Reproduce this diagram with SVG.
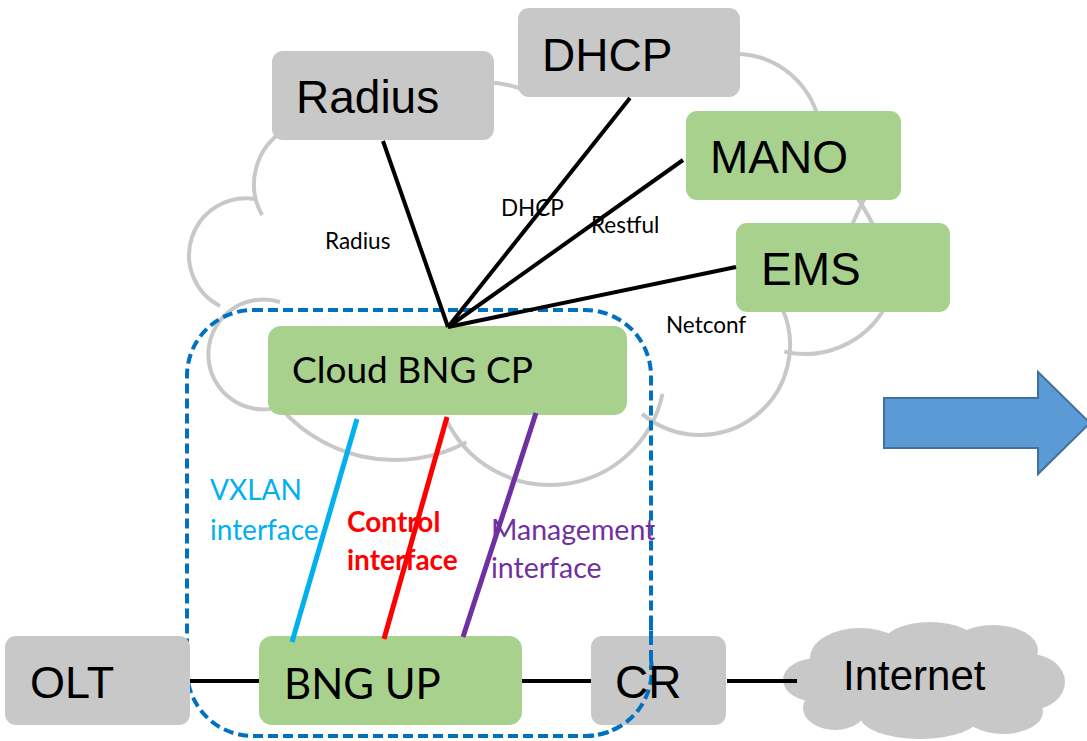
<svg xmlns="http://www.w3.org/2000/svg" width="1087" height="741" viewBox="0 0 1087 741">
<style>
.cloud{fill:none;stroke:#c8c8c8;stroke-width:4}
.gray{fill:#c8c8c8}
.green{fill:#a9d18e}
.big{font-family:"Liberation Sans",Arial,sans-serif;font-size:46px;fill:#000}
.lato{font-family:Lato,"Open Sans",sans-serif}
.small{font-family:Lato,"Open Sans",sans-serif;font-size:22.5px;fill:#000}
.conn{stroke:#000;stroke-width:4;fill:none}
.ifc{stroke-width:5;fill:none}
</style>
<rect width="1087" height="741" fill="#fff"/>
<g id="backgroundCloud">
<path class="cloud" d="M530 92 A120 120 0 0 0 420 100"/>
<path class="cloud" d="M285 130 A63 63 0 0 0 262 215"/>
<path class="cloud" d="M255 199 A57 57 0 0 0 220 306"/>
<path class="cloud" d="M280 302 A55 55 0 1 0 285 405"/>
<path class="cloud" d="M273.6 399.5 A152 152 0 0 0 466.4 442.2"/>
<path class="cloud" d="M445.8 418.6 A115 115 0 0 0 662.5 393.9"/>
<path class="cloud" d="M642.1 413.9 A90 90 0 0 0 781.6 307"/>
<path class="cloud" d="M784.3 351.6 A92 92 0 0 0 884.7 308"/>
<path class="cloud" d="M848 235 Q858 210 866 196 M878 235 Q866 210 856 196"/>
<path class="cloud" d="M819.7 125 A86 86 0 0 0 720 55"/>
</g>
<g id="cpBoundary">
<rect x="187" y="310" width="464" height="426" rx="66" ry="66" fill="none" stroke="#0070c0" stroke-width="4" stroke-dasharray="10 5"/>
</g>
<g id="Radius"><rect class="gray" x="272" y="51" width="222" height="89" rx="11"/><text class="big" x="296" y="113">Radius</text></g>
<g id="DHCP"><rect class="gray" x="518" y="8" width="222" height="89" rx="11"/><text class="big" x="542" y="71">DHCP</text></g>
<g id="MANO"><rect class="green" x="686" y="111" width="215" height="89" rx="11"/><text class="big" x="710" y="173">MANO</text></g>
<g id="EMS"><rect class="green" x="736" y="223" width="214" height="89" rx="11"/><text class="big" x="761" y="285">EMS</text></g>
<g id="OLT"><rect class="gray" x="5" y="636" width="185" height="89" rx="11"/><text class="big" x="30" y="698" style="font-size:45px">OLT</text></g>
<g id="CR"><rect class="gray" x="591" y="636" width="135" height="89" rx="11"/></g>
<g id="cpBoundaryOverCR">
<path d="M651 660 A66 66 0 0 1 585 736" fill="none" stroke="#0070c0" stroke-width="4" stroke-dasharray="10 5"/>
<line x1="651" y1="620" x2="651" y2="670" stroke="#0070c0" stroke-width="4" stroke-dasharray="10 5"/>
</g>
<g id="CRlabel"><text class="big" x="615" y="698">CR</text></g>
<g id="Internet">
<g class="gray">
<ellipse cx="817" cy="680" rx="34" ry="22"/>
<ellipse cx="835" cy="708" rx="32" ry="22"/>
<ellipse cx="860" cy="658" rx="50" ry="30"/>
<ellipse cx="930" cy="645" rx="48" ry="23"/>
<ellipse cx="993" cy="650" rx="45" ry="25"/>
<ellipse cx="1030" cy="682" rx="35" ry="28"/>
<ellipse cx="1003" cy="712" rx="40" ry="22"/>
<ellipse cx="920" cy="716" rx="60" ry="23"/>
<ellipse cx="925" cy="682" rx="110" ry="42"/>
</g>
<text class="big" x="843" y="690" style="font-size:42px">Internet</text>
</g>
<g id="CloudBNGCP"><rect class="green" x="268" y="326" width="359" height="89" rx="13"/><text class="lato" x="292" y="383" font-size="37">Cloud BNG CP</text></g>
<g id="BNGUP"><rect class="green" x="259" y="636" width="263" height="89" rx="13"/><text class="lato" x="284" y="699" font-size="42">BNG UP</text></g>
<g id="connectors">
<line class="conn" x1="383" y1="141" x2="448" y2="327"/>
<line class="conn" x1="630" y1="98" x2="448" y2="327"/>
<line class="conn" x1="683" y1="160" x2="448" y2="327"/>
<line class="conn" x1="736" y1="267" x2="448" y2="327"/>
<line class="conn" x1="190" y1="681" x2="259" y2="681"/>
<line class="conn" x1="522" y1="681" x2="591" y2="681"/>
<line class="conn" x1="727" y1="681" x2="797" y2="681"/>
<line class="ifc" stroke="#00b0f0" x1="357" y1="419" x2="292" y2="642"/>
<line class="ifc" stroke="#ff0000" x1="447" y1="417" x2="384" y2="639"/>
<line class="ifc" stroke="#7030a0" x1="536" y1="413" x2="463" y2="637"/>
</g>
<g id="labels">
<text class="small" x="325" y="249">Radius</text>
<text class="small" x="501" y="216">DHCP</text>
<text class="small" x="591" y="233">Restful</text>
<text class="small" x="666" y="333">Netconf</text>
<text class="lato" font-size="28" fill="#00b0f0"><tspan x="210" y="500">VXLAN</tspan><tspan x="210" y="540">interface</tspan></text>
<text class="lato" font-size="28" font-weight="bold" fill="#ff0000"><tspan x="347" y="532">Control</tspan><tspan x="347" y="570">interface</tspan></text>
<text class="lato" font-size="28.5" fill="#7030a0"><tspan x="491" y="540">Management</tspan><tspan x="491" y="578">interface</tspan></text>
</g>
<g id="transitionArrow">
<polygon points="884,398 1038,398 1038,372 1090,423 1038,474 1038,448 884,448" fill="#5b9bd5" stroke="#41719c" stroke-width="2"/>
</g>
</svg>
